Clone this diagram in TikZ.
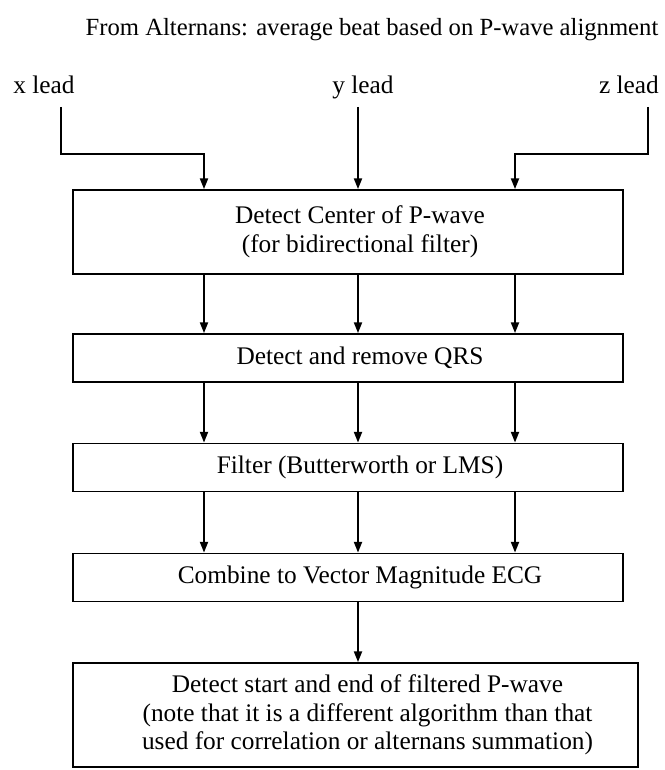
\documentclass[tikz,border=0pt]{standalone}
\usepackage{fontspec}
\setmainfont{Liberation Serif}
\usepackage{tikz}
\usetikzlibrary{
  arrows.meta,   % Triangle 箭头
  calc           % 坐标计算
}

\begin{document}
\begin{tikzpicture}[x=0.75pt, y=-0.75pt,
  >={Triangle[length=8pt, width=6pt]},
  line width=1.4pt,
  txt/.style={font=\fontsize{19}{21.5}\selectfont, inner sep=0pt},
  boxtext/.style={font=\fontsize{19}{21.5}\selectfont, align=center,
    inner sep=0pt, xshift=9pt},
  box/.style={draw, minimum width=412.5pt, minimum height=36pt, inner sep=0pt},
  flow/.style={->}]
  \useasboundingbox (0,0) rectangle (664,770);

  % 标题与三个导联
  \node[txt, font=\fontsize{18.5}{21.5}\selectfont, anchor=base] (title) at (372, 36)
    {From Alternans: average beat based on P-wave alignment};
  \node[txt, anchor=base] (xl) at (44, 94) {x lead};
  \node[txt, anchor=base] (yl) at (363, 94) {y lead};
  \node[txt, anchor=base] (zl) at (629, 94) {z lead};

  % 三列箭头的横坐标
  \coordinate (colA) at (204, 0);
  \coordinate (colB) at (358, 0);
  \coordinate (colC) at (515, 0);

  % 各处理框
  \node[box, minimum height=63pt,
    label={[boxtext]center:{Detect Center of P-wave\\(for bidirectional filter)}}]
    (center) at (348, 232) {};
  \node[box, label={[boxtext]center:Detect and remove QRS}] (qrs) at (348, 358) {};
  \node[box, label={[boxtext]center:Filter (Butterworth or LMS)}] (filt) at (348, 467.5) {};
  \node[box, label={[boxtext]center:Combine to Vector Magnitude ECG}] (comb) at (348, 577.5) {};
  \node[box, minimum width=423.75pt, minimum height=78pt,
    label={[boxtext]center:{Detect start and end of filtered P-wave\\(note that it is a different algorithm than that\\used for correlation or alternans summation)}}]
    (edge) at (355.5, 715) {};

  % 导联输入
  \coordinate (xin) at (61, 107);
  \coordinate (yin) at (358, 107);
  \coordinate (zin) at (648, 107);
  \draw[flow] (xin) -- ++(0, 47) -| (center.north -| colA);
  \draw[flow] (yin) -- (center.north -| colB);
  \draw[flow] (zin) -- ++(0, 47) -| (center.north -| colC);

  % 框与框之间的三路箭头
  \foreach \col in {colA, colB, colC} {
    \draw[flow] (center.south -| \col) -- (qrs.north -| \col);
    \draw[flow] (qrs.south -| \col) -- (filt.north -| \col);
    \draw[flow] (filt.south -| \col) -- (comb.north -| \col);
  }

  % 合成后单路
  \draw[flow] (comb.south -| colB) -- (edge.north -| colB);
\end{tikzpicture}
\end{document}
